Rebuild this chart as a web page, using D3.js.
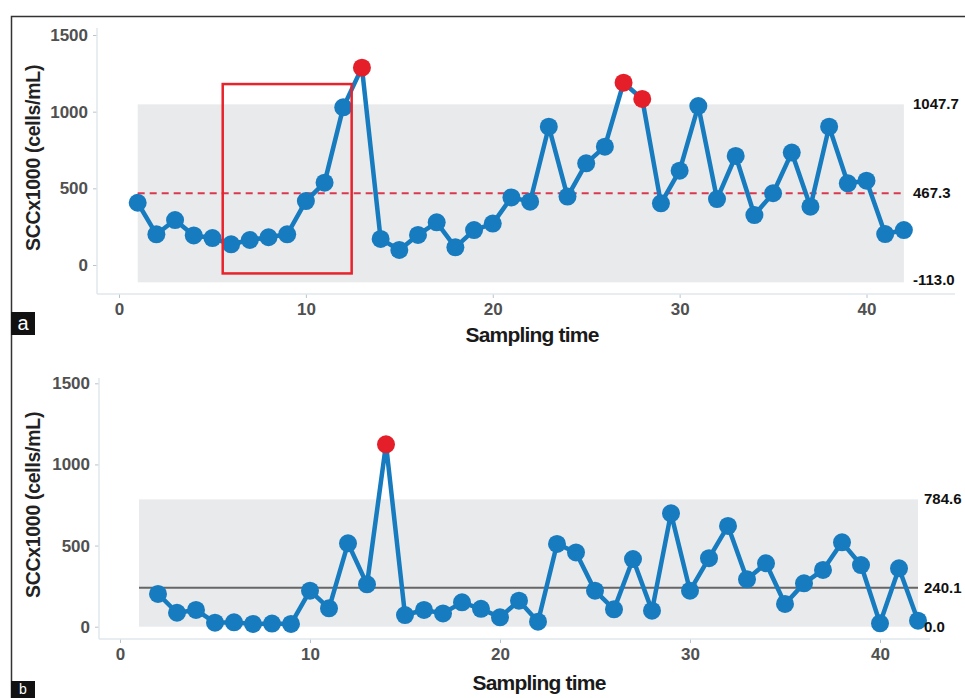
<!DOCTYPE html>
<html><head><meta charset="utf-8">
<script src="https://cdn.jsdelivr.net/npm/d3@7"></script>
<style>body{margin:0;background:#fff}svg{display:block}</style>
</head><body><svg id="c" width="965" height="698"></svg>
<script>
const timeA = d3.range(1, 43);
const valuesA = [406,200,293,193,176,135,163,181,200,417,537,1028,1287,170,98,196,278,115,228,270,441,413,902,446,663,772,1189,1083,402,615,1037,430,711,326,468,733,380,902,533,550,202,228];
const outA = [13,27,28];
const limitsA = {ucl:1047.7, cl:467.3, lcl:-113.0};
const limitLabelsA = ["1047.7","467.3","-113.0"];
const valuesB = [null,202,86,103,25,27,17,19,17,222,113,514,261,1124,72,103,82,150,110,58,160,31,510,458,222,107,417,99,699,222,422,621,292,391,140,267,350,520,380,21,360,37];
const outB = [14];
const limitsB = {ucl:784.6, cl:240.1, lcl:0.0};
const limitLabelsB = ["784.6","240.1","0.0"];
const yTicks = [0,500,1000,1500];
const xTicks = [0,10,20,30,40];
const boxA = {x0:5.55, x1:12.45, y0:-55, y1:1180};

const svg = d3.select("#c");
const BLUE = "#167bbf", RED = "#e51f2a";
const FONT = "Liberation Sans, Arial, sans-serif";

// frame
svg.append("path").attr("d","M11.5,698 V16.5 H965").attr("fill","none").attr("stroke","#333").attr("stroke-width",1.5);

function panel(cfg){
  const x = d3.scaleLinear().domain([0,40]).range([cfg.x0, cfg.x40]);
  const y = d3.scaleLinear().domain([0,1500]).range([cfg.y0, cfg.y1500]);
  const g = svg.append("g");
  // band
  g.append("rect").attr("x", x(1)).attr("width", x(42)-x(1))
    .attr("y", y(cfg.lim.ucl)).attr("height", y(cfg.lim.lcl)-y(cfg.lim.ucl))
    .attr("fill","#e9eaeb");
  // axes
  const yAx = d3.axisLeft(y).tickValues(yTicks).tickFormat(d3.format("d")).tickSize(4).tickPadding(5);
  const ya = g.append("g").attr("transform",`translate(${cfg.axX},0)`).call(yAx);
  const xAx = d3.axisBottom(x).tickValues(xTicks).tickFormat(d3.format("d")).tickSize(4).tickPadding(5);
  const xa = g.append("g").attr("transform",`translate(0,${cfg.axY})`).call(xAx);
  [ya,xa].forEach(a=>{
    a.select(".domain").remove();
    a.selectAll(".tick line").attr("stroke","#b8c4cc");
    a.selectAll("text").attr("fill","#505050").attr("font-family",FONT)
      .attr("font-size",17).attr("font-weight","bold");
  });
  g.append("line").attr("x1",cfg.axX).attr("x2",cfg.axX).attr("y1",cfg.axTop).attr("y2",cfg.axY).attr("stroke","#dfe7ec").attr("stroke-width",1.5);
  g.append("line").attr("x1",cfg.axX).attr("x2",cfg.axRight).attr("y1",cfg.axY).attr("y2",cfg.axY).attr("stroke","#dfe7ec").attr("stroke-width",1.5);
  // center line
  const cl = g.append("line").attr("x1",x(1)).attr("x2",x(42)).attr("y1",y(cfg.lim.cl)).attr("y2",y(cfg.lim.cl));
  if(cfg.dashed) cl.attr("stroke","#d9384f").attr("stroke-width",2).attr("stroke-dasharray","7,5");
  else cl.attr("stroke","#666").attr("stroke-width",2);
  // data
  const data = timeA.map((t,i)=>({t, v:cfg.vals[i]})).filter(d=>d.v!=null);
  const line = d3.line().x(d=>x(d.t)).y(d=>y(d.v));
  g.append("path").datum(data).attr("d",line).attr("fill","none").attr("stroke",BLUE).attr("stroke-width",4.5).attr("stroke-linejoin","round");
  g.selectAll("circle.p").data(data).join("circle").attr("class","p")
    .attr("cx",d=>x(d.t)).attr("cy",d=>y(d.v)).attr("r",9)
    .attr("fill",d=>cfg.out.includes(d.t)?RED:BLUE);
  // limit labels
  const lv = [cfg.lim.ucl, cfg.lim.cl, cfg.lim.lcl];
  g.selectAll("text.lim").data(lv).join("text").attr("class","lim")
    .attr("x",cfg.labX).attr("y",(d,i)=>y(d)+5+(cfg.labDy[i]||0))
    .attr("font-family",FONT).attr("font-size",15).attr("font-weight","bold")
    .attr("fill","#111").text((d,i)=>cfg.labels[i]);
  // titles
  g.append("text").attr("transform",`translate(${cfg.ytX},${cfg.ytY}) rotate(-90)`).attr("text-anchor","middle")
    .attr("font-family",FONT).attr("font-size",19.5).attr("font-weight","bold").attr("fill","#222")
    .attr("letter-spacing","-0.3").text("SCCx1000 (cells/mL)");
  g.append("text").attr("x",cfg.xtX).attr("y",cfg.xtY).attr("text-anchor","middle")
    .attr("font-family",FONT).attr("font-size",21).attr("font-weight","bold").attr("fill","#1a1a1a")
    .attr("letter-spacing","-0.8").text("Sampling time");
  // panel letter
  g.append("rect").attr("x",11).attr("y",cfg.letY).attr("width",24).attr("height",cfg.letH).attr("fill","#111");
  g.append("text").attr("x",23).attr("y",cfg.letY+cfg.letDy).attr("text-anchor","middle")
    .attr("font-family",FONT).attr("font-size",cfg.letFs).attr("fill","#fff").text(cfg.letter);
  return {x,y,g};
}

const pa = panel({x0:119, x40:866.5, y0:265, y1500:35, axX:97, axY:294, axTop:28, axRight:955,
  lim:limitsA, vals:valuesA, out:outA, dashed:true, labels:limitLabelsA, labX:913, labDy:[0,0,-2],
  ytX:40, ytY:158, xtX:532, xtY:342, letY:312, letH:23, letDy:18, letFs:20, letter:"a"});
pa.g.append("rect").attr("x",pa.x(boxA.x0)).attr("y",pa.y(boxA.y1))
  .attr("width",pa.x(boxA.x1)-pa.x(boxA.x0)).attr("height",pa.y(boxA.y0)-pa.y(boxA.y1))
  .attr("fill","none").attr("stroke","#e8232b").attr("stroke-width",2.5);

panel({x0:120, x40:880, y0:626.7, y1500:383.3, axX:99, axY:639, axTop:378, axRight:930,
  lim:limitsB, vals:valuesB, out:outB, dashed:false, labels:limitLabelsB, labX:924, labDy:[0,0,0],
  ytX:40, ytY:505, xtX:539, xtY:690, letY:681, letH:17, letDy:13, letFs:14, letter:"b"});
</script></body></html>
